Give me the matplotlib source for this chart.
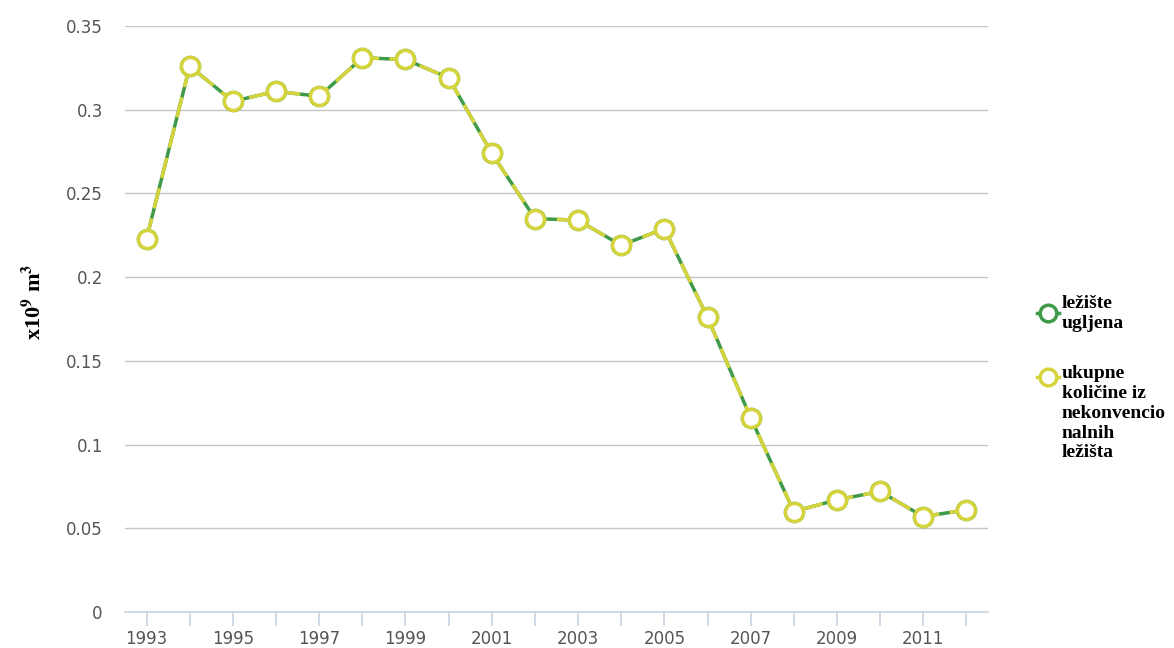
import numpy as np
import matplotlib
matplotlib.use('Agg')
import matplotlib.pyplot as plt
from matplotlib.lines import Line2D

years = list(range(1993, 2013))
coal = [0.223, 0.326, 0.305, 0.311, 0.308, 0.331, 0.330, 0.319, 0.274, 0.235,
        0.234, 0.219, 0.229, 0.176, 0.116, 0.060, 0.067, 0.072, 0.057, 0.061]
unconv = list(coal)
labels = ['ležište\nugljena', 'ukupne\nkoličine iz\nnekonvencio\nnalnih\nležišta']
tick_years = [y for y in years if y % 2 == 1]

green = '#3f9a4a'
yellow = '#d6d43c'

W, H = 1174, 648
fig = plt.figure(figsize=(W / 100, H / 100), dpi=100)
ax = fig.add_axes([125 / W, 36 / H, 863 / W, 586 / H])

ax.plot(years, coal, color=green, lw=2.5, marker='o', ms=13, mfc='white',
        mec=green, mew=2.5, zorder=3)
ax.plot(years, unconv, color=yellow, lw=2.5, ls=(0, (6, 3)), marker='o', ms=13,
        mfc='white', mec=yellow, mew=2.5, zorder=4)

ax.set_xlim(1992.5, 2012.5)
ax.set_ylim(0, 0.35)
ax.set_yticks(np.arange(0, 0.351, 0.05))
ax.set_yticklabels(['0', '0.05', '0.1', '0.15', '0.2', '0.25', '0.3', '0.35'])
ax.set_xticks(years)
ax.set_xticklabels([str(y) if y in tick_years else '' for y in years])

for s in ['top', 'right', 'left']:
    ax.spines[s].set_visible(False)
ax.spines['bottom'].set_color('#c8d4e0')
ax.spines['bottom'].set_linewidth(1.2)
ax.grid(axis='y', color='#c4c4c4', lw=1)
ax.set_axisbelow(True)
ax.tick_params(axis='x', length=10, color='#c8d4e0', width=1.2, labelsize=12,
               labelcolor='#555555', pad=3)
ax.tick_params(axis='y', length=0, labelsize=12, labelcolor='#555555', pad=16)

fig.text(34 / W, 1 - 302 / H, 'x10$^{\\mathbf{9}}$ m$^{\\mathbf{3}}$', rotation=90,
         ha='center', va='center', fontsize=16, fontweight='bold',
         family='Liberation Serif', math_fontfamily='stix')

# legend drawn by hand to follow the original layout
legend_font = {'family': 'Liberation Serif', 'weight': 'bold', 'size': 14}
entries = [(labels[0], green, 313, 295), (labels[1], yellow, 377, 365)]
for text, col, my, ty in entries:
    fig.add_artist(Line2D([1037 / W, 1059 / W], [1 - my / H, 1 - my / H],
                          transform=fig.transFigure, color=col, lw=2.5))
    fig.add_artist(Line2D([1048 / W], [1 - my / H], transform=fig.transFigure,
                          marker='o', ms=12, mfc='white', mec=col, mew=2.5))
    fig.text(1062 / W, 1 - ty / H, text, ha='left', va='top', linespacing=1.22,
             **legend_font)

fig.savefig('out.png', dpi=100)
